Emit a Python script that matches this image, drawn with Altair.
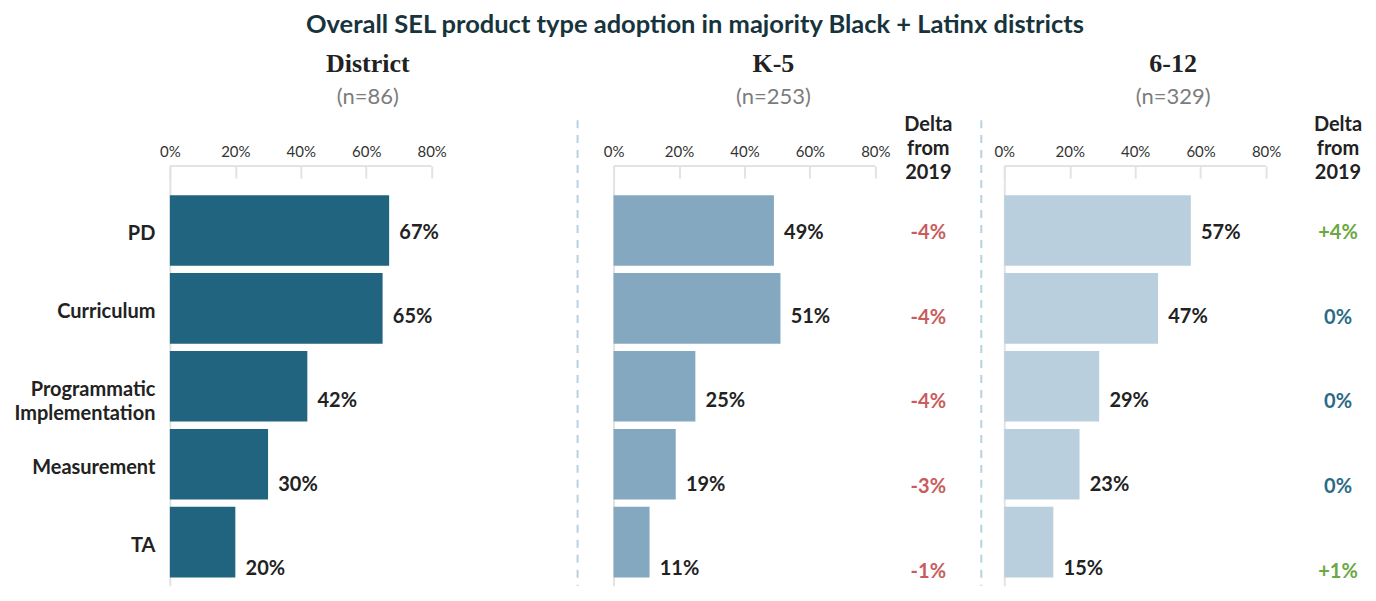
import altair as alt
import pandas as pd

# ---------------- data ----------------
categories = ["PD", "Curriculum", "Programmatic Implementation", "Measurement", "TA"]
panel_names = ["District", "K-5", "6-12"]
panel_n = [86, 253, 329]
district_pct = [67, 65, 42, 30, 20]
k5_pct = [49, 51, 25, 19, 11]
g612_pct = [57, 47, 29, 23, 15]
k5_delta = [-4, -4, -4, -3, -1]
g612_delta = [4, 0, 0, 0, 1]
tick_values = [0, 20, 40, 60, 80]
delta_header = ["Delta", "from", "2019"]
title_text = "Overall SEL product type adoption in majority Black + Latinx districts"

# ---------------- style ----------------
SANS = "Lato"
SERIF = "Liberation Serif"
H = 420
BAR_COLORS = ["#21647f", "#84a8c0", "#bacfde"]
GRID = "#e3e3e3"
DASH = "#b9d1e0"
RED, TEAL, GREEN = "#c95c5c", "#2b6a86", "#6aa842"


def fmt_delta(d):
    return "0%" if d == 0 else f"{d:+d}%"


def sign(d):
    return "neg" if d < 0 else ("zero" if d == 0 else "pos")


def one_row():
    return pd.DataFrame({"k": [0]})


def panel(i, pct, width, header_x, delta=None, delta_x=None, dash_x=None, show_labels=False):
    df = pd.DataFrame({"category": categories, "value": [v / 100 for v in pct]})
    yscale = alt.Scale(domain=categories, paddingInner=0.094, paddingOuter=0.24, align=0.777)
    xscale = alt.Scale(domain=[0, 0.8], range=[0, 262])
    if show_labels:
        yaxis = alt.Axis(
            title=None, ticks=False, domain=True, domainColor=GRID, domainWidth=2,
            labelFont=SANS, labelFontSize=20, labelFontWeight="bold", labelColor="#222",
            labelPadding=15, labelOffset=4, labelLineHeight=24, labelLimit=400,
            labelExpr="datum.label == 'Programmatic Implementation' ? ['Programmatic', 'Implementation'] : datum.label",
        )
    else:
        yaxis = alt.Axis(title=None, ticks=False, labels=False, domain=True,
                         domainColor=GRID, domainWidth=2)
    xaxis = alt.Axis(
        title=None, orient="top", values=[t / 100 for t in tick_values], format=".0%",
        domain=False, grid=False, offset=-12, tickSize=12, tickColor=GRID, tickWidth=2,
        labelFont=SANS, labelFontSize=15, labelColor="#333", labelPadding=7,
        labelFlush=False,
    )
    base = alt.Chart(df)
    bars = base.mark_bar(color=BAR_COLORS[i]).encode(
        x=alt.X("value:Q", scale=xscale, axis=xaxis),
        y=alt.Y("category:N", sort=categories, scale=yscale, axis=yaxis),
    )
    labels = base.mark_text(
        align="center", baseline="middle", dx=30, dy=2, font=SANS, fontSize=20,
        fontWeight="bold", color="#222",
    ).encode(
        x=alt.X("value:Q", scale=xscale, axis=xaxis),
        y=alt.Y("category:N", sort=categories, scale=yscale, axis=None),
        text=alt.Text("value:Q", format=".0%"),
    )
    rule_df = pd.DataFrame({"value": [min(tick_values) / 100], "x1": [max(tick_values) / 100]})
    top_rule = alt.Chart(rule_df).mark_rule(color=GRID, strokeWidth=2).encode(
        x=alt.X("value:Q", scale=xscale, axis=xaxis), x2="x1:Q", y=alt.value(0)
    )
    hdr_df = pd.DataFrame({"name": [panel_names[i]], "n": [f"(n={panel_n[i]})"]})
    name_t = alt.Chart(hdr_df).mark_text(
        font=SERIF, fontSize=26, fontWeight="bold", color="#222", baseline="middle"
    ).encode(x=alt.value(header_x), y=alt.value(-102), text="name:N")
    n_t = alt.Chart(hdr_df).mark_text(
        font=SANS, fontSize=22, color="#7c7c7c", baseline="middle"
    ).encode(x=alt.value(header_x), y=alt.value(-69), text="n:N")
    layers = [bars, labels, top_rule, name_t, n_t]
    if delta is not None:
        ddf = pd.DataFrame({
            "cat": categories,
            "label": [fmt_delta(d) for d in delta],
            "sign": [sign(d) for d in delta],
        })
        dtext = alt.Chart(ddf).mark_text(
            font=SANS, fontSize=20, fontWeight="bold", baseline="middle"
        ).encode(
            x=alt.value(delta_x),
            y=alt.Y("cat:N", sort=categories,
                    scale=alt.Scale(type="point", padding=0.478, align=0.827), axis=None),
            text="label:N",
            color=alt.Color("sign:N", scale=alt.Scale(domain=["neg", "zero", "pos"],
                                                      range=[RED, TEAL, GREEN]), legend=None),
        )
        dhead = alt.Chart(one_row()).mark_text(
            text=delta_header, lineHeight=24, font=SANS, fontSize=20, fontWeight="bold",
            color="#222", baseline="middle"
        ).encode(x=alt.value(delta_x), y=alt.value(-41))
        layers += [dtext, dhead]
    if dash_x is not None:
        dash = alt.Chart(one_row()).mark_rule(color=DASH, strokeWidth=2, strokeDash=[8, 7]).encode(
            x=alt.value(dash_x), y=alt.value(-46), y2=alt.value(H)
        )
        layers.append(dash)
    return alt.layer(*layers).resolve_scale(y="independent").properties(width=width, height=H)


p1 = panel(0, district_pct, 444, 198, dash_x=408, show_labels=True)
p2 = panel(1, k5_pct, 391, 160, delta=k5_delta, delta_x=315, dash_x=368)
p3 = panel(2, g612_pct, 340, 169, delta=g612_delta, delta_x=334)

chart = (
    alt.hconcat(p1, p2, p3, spacing=0, bounds="flush")
    .properties(
        title=alt.TitleParams(
            text=title_text, font=SANS, fontSize=25.5, fontWeight="bold", color="#17343d",
            anchor="middle", offset=13, dx=7,
        ),
        padding={"left": 5, "top": 4, "right": 5, "bottom": 5},
    )
    .configure(font=SANS)
    .configure_view(strokeWidth=0)
)

chart.save("out.html", embed_options={"renderer": "svg", "actions": False})
